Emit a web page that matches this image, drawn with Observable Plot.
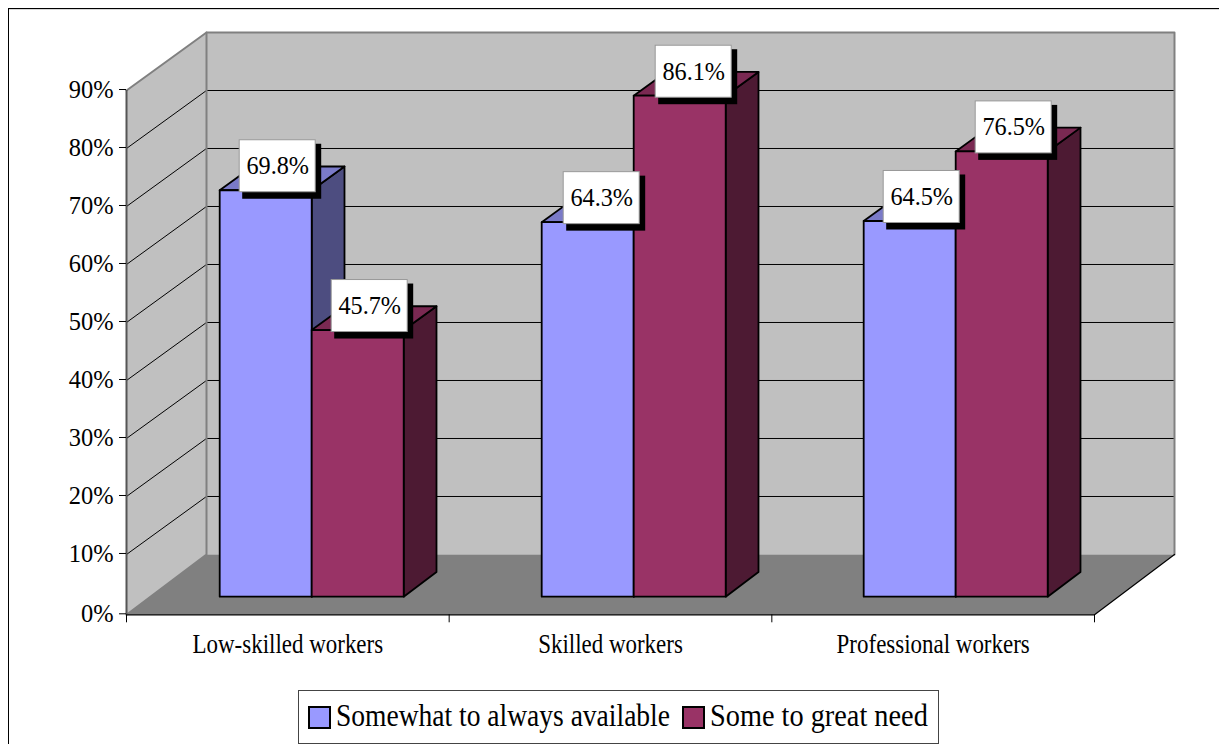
<!DOCTYPE html>
<html>
<head>
<meta charset="utf-8">
<script src="https://cdn.jsdelivr.net/npm/d3@7"></script>
<script src="https://cdn.jsdelivr.net/npm/@observablehq/plot@0.6"></script>
<style>
  html, body { margin: 0; padding: 0; background: #fff; overflow: hidden; width: 1219px; height: 744px; }
  #frame { position: absolute; left: 8px; top: 8px; right: 0; bottom: 0; border-left: 1px solid #000; border-top: 1px solid #000; box-shadow: inset 0 1px 0 #d8d8d8; }
  #chart { position: absolute; left: 0; top: 0; }
  #legend { position: absolute; left: 298px; top: 690px; width: 639px; height: 52px; border: 1px solid #444; background: #fff;
            font-family: "Liberation Serif", serif; font-size: 32px; color: #000; }
  #legend .swatch { position: absolute; top: 15px; width: 19px; height: 19px; border: 2px solid #000; }
  #legend .name { position: absolute; top: 6px; white-space: nowrap; line-height: 36px; transform-origin: left center; }
</style>
</head>
<body>
<div id="frame"></div>
<div id="chart"></div>
<div id="legend"></div>
<script>
// Survey shares by worker group, drawn as an oblique 3-D column chart.
const categories = ["Low-skilled workers", "Skilled workers", "Professional workers"];
const seriesNames = ["Somewhat to always available", "Some to great need"];
const availableValues = [69.8, 64.3, 64.5];
const needValues = [45.7, 86.1, 76.5];
const yTicks = [0, 10, 20, 30, 40, 50, 60, 70, 80, 90];
const xTicks = [0, 1, 2, 3];

const serif = '"Liberation Serif", serif';
const unitX = 322.67; // pixels per category

// Oblique projection: one unit of depth moves a point along both axes.
const depthX = 80 / unitX;
const depthY = 10;
const project = (x, v, d) => ({x: x + d * depthX, y: v + d * depthY});

// Column layout in category units; depth runs from front (0) to back wall (1).
const barWidth = 92 / unitX;
const groupStep = 322 / unitX;
const sideGap = 69.2 / unitX;
const depthFront = 0.3;
const depthBack = 0.71;

const palette = [
  {front: "#9999ff", top: "#7a7ac8", side: "#4d4d80"},
  {front: "#993366", top: "#7a2952", side: "#4d1a33"}
];

const polygon = (points, options) =>
  Plot.line(points, {x: "x", y: "y", z: "id", curve: "linear-closed", ...options});
const path = (points, options) =>
  Plot.line(points, {x: "x", y: "y", z: "id", ...options});

// The first axis interval runs slightly taller than the others.
const stretchBase = (v) => (v >= 10 ? v : 10 + (v - 10) * 1.04);

// Chart walls and floor
const backWall = [project(0, 0, 1), project(3, 0, 1), project(3, 90, 1), project(0, 90, 1)];
const leftWall = [project(0, 0, 0), project(0, 0, 1), project(0, 90, 1), project(0, 90, 0)];
const floor = [project(0, 0, 0), project(3, 0, 0), project(3, 0, 1), project(0, 0, 1)];

const gridLines = yTicks.filter((v) => v > 0 && v < 90).flatMap((v) => [
  {id: v, ...project(0, v, 0)},
  {id: v, ...project(0, v, 1)},
  {id: v, ...project(3, v, 1)}
]);
const wallEdges = [
  {id: "top", ...project(0, 90, 0)},
  {id: "top", ...project(0, 90, 1)},
  {id: "top", ...project(3, 90, 1)},
  {id: "top", ...project(3, 0, 1)},
  {id: "inner", ...project(0, 90, 1)},
  {id: "inner", ...project(0, 0, 1)},
  {id: "inner", ...project(0, 0, 0)}
];
const floorEdges = [
  {id: "edge", ...project(0, 0, 0)},
  {id: "edge", ...project(3, 0, 0)},
  {id: "edge", ...project(3, 0, 1)}
];

// One record per column, keeping each group's series order
const calloutShift = [12, 14, 12];
const columns = categories.flatMap((c, i) =>
  [availableValues[i], needValues[i]].map((value, s) => ({
    series: s,
    value,
    shift: calloutShift[i] / unitX,
    x0: i * groupStep + sideGap + s * barWidth,
    x1: i * groupStep + sideGap + (s + 1) * barWidth
  }))
);

const columnFaces = (b) => {
  const colors = palette[b.series];
  const face = (kind, corners) => polygon(corners, {
    fill: colors[kind], stroke: "#000", strokeWidth: 1.8, strokeLinejoin: "round"
  });
  return [
    face("side", [project(b.x1, 0, depthFront), project(b.x1, 0, depthBack), project(b.x1, b.value, depthBack), project(b.x1, b.value, depthFront)]),
    face("top", [project(b.x0, b.value, depthFront), project(b.x1, b.value, depthFront), project(b.x1, b.value, depthBack), project(b.x0, b.value, depthBack)]),
    face("front", [project(b.x0, 0, depthFront), project(b.x1, 0, depthFront), project(b.x1, b.value, depthFront), project(b.x0, b.value, depthFront)])
  ];
};

// Value callouts sit on the front top edge of each column
const anchorX = (b) => (b.x0 + b.x1) / 2 + depthFront * depthX + b.shift;
const anchorY = (b) => b.value + depthFront * depthY;
const boxHalfX = 38 / unitX;
const boxHalfY = 26 / 5.8;
const callout = {
  x1: (b) => anchorX(b) - boxHalfX,
  x2: (b) => anchorX(b) + boxHalfX,
  y1: (b) => anchorY(b) - boxHalfY,
  y2: (b) => anchorY(b) + boxHalfY
};

const plot = Plot.plot({
  width: 1219,
  height: 684,
  marginLeft: 126,
  marginRight: 125,
  marginTop: 90,
  marginBottom: 69.7,
  x: {domain: [0, 3]},
  y: {transform: stretchBase, domain: [stretchBase(0), 90]},
  style: {background: "transparent", fontFamily: serif, color: "#000", overflow: "visible"},
  marks: [
    polygon(backWall, {fill: "#c0c0c0"}),
    polygon(leftWall, {fill: "#c0c0c0"}),
    path(gridLines, {stroke: "#000", strokeWidth: 1}),
    polygon(floor, {fill: "#808080"}),
    path(wallEdges, {stroke: "#808080", strokeWidth: 2}),
    path(floorEdges, {stroke: "#000", strokeWidth: 1.2}),
    Plot.ruleX([0], {y1: 0, y2: 90, stroke: "#555", strokeWidth: 2}),
    // Axis ticks bypass the scale transform, so they are given in transformed terms.
    Plot.axisY({ticks: yTicks.map(stretchBase), tickFormat: (d) => Math.round(d) + "%", tickSize: 7, tickPadding: 6, fontSize: 26, dy: -1, label: null}),
    Plot.axisX({ticks: xTicks, tickFormat: () => "", tickSize: 8, label: null}),
    Plot.text(categories, {x: (d, i) => i + 0.5, y: 0, text: (d) => d, dy: 30, fontSize: 27, fontFamily: serif}),
    ...columns.flatMap(columnFaces),
    Plot.rect(columns, {...callout, dx: 4.5, dy: -18.5, inset: -1.5, fill: "#000"}),
    Plot.rect(columns, {...callout, dy: -24, fill: "#fff", stroke: "#999", strokeWidth: 1}),
    Plot.text(columns, {
      x: anchorX, y: anchorY, text: (b) => b.value.toFixed(1) + "%",
      dy: -24, fontSize: 25, fontFamily: serif, fill: "#000"
    })
  ]
});
document.getElementById("chart").append(plot);

// The lettering is narrower than the regular face, so condense it to width.
d3.select(plot).selectAll("text").each(function () {
  const content = this.textContent;
  const factor = categories.includes(content) ? 0.85
    : /^\d+%$/.test(content) ? 0.94
    : /^\d+\.\d%$/.test(content) ? 0.97
    : 1;
  if (factor !== 1) {
    this.setAttribute("textLength", this.getComputedTextLength() * factor);
    this.setAttribute("lengthAdjust", "spacingAndGlyphs");
  }
});

// Legend below the plot
const legend = document.getElementById("legend");
const layout = [{swatch: 9, text: 37, scale: 0.86}, {swatch: 383, text: 411, scale: 0.885}];
seriesNames.forEach((name, i) => {
  const swatch = document.createElement("div");
  swatch.className = "swatch";
  swatch.style.left = layout[i].swatch + "px";
  swatch.style.background = palette[i].front;
  const label = document.createElement("div");
  label.className = "name";
  label.style.left = layout[i].text + "px";
  label.style.transform = `scaleX(${layout[i].scale})`;
  label.textContent = name;
  legend.append(swatch, label);
});
</script>
</body>
</html>
